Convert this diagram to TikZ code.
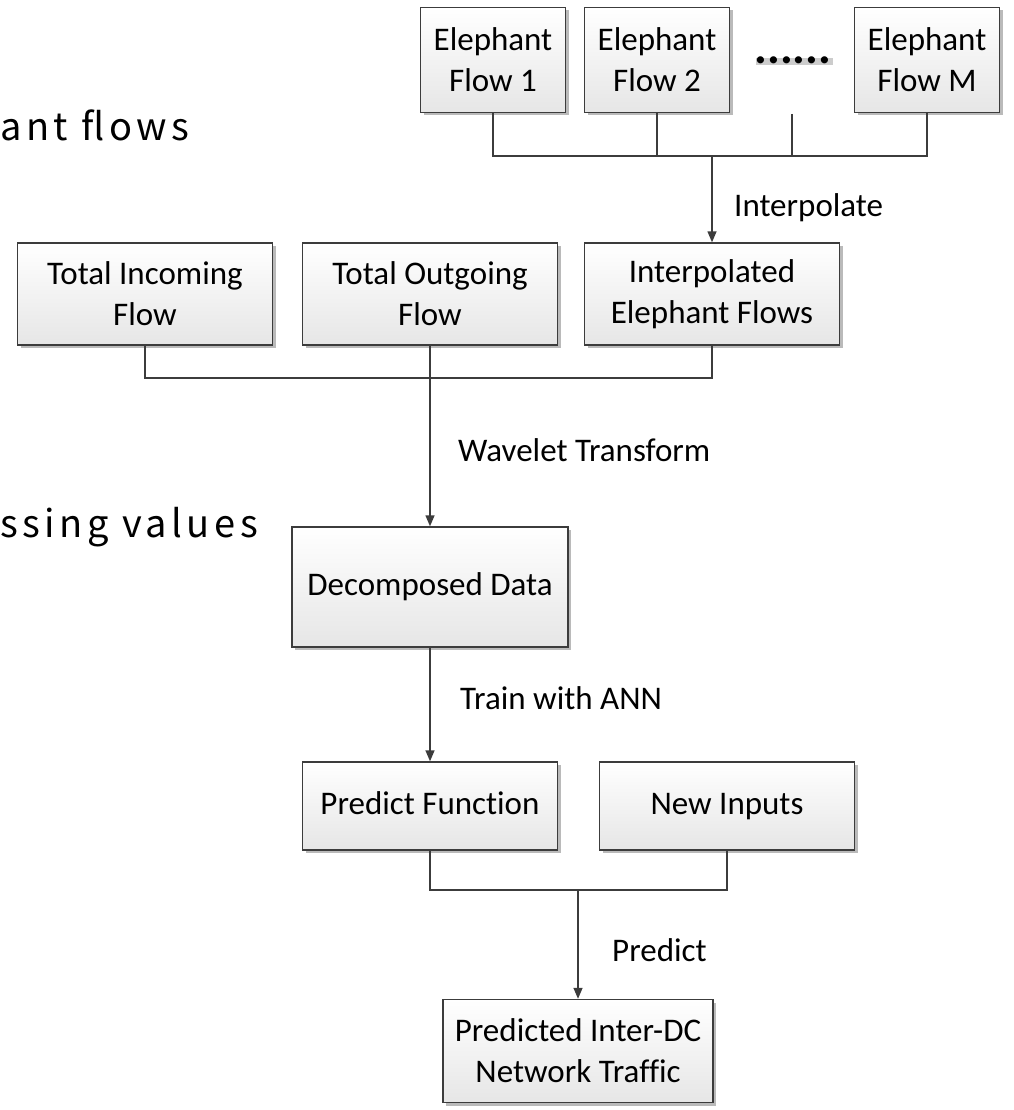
\documentclass[tikz,border=0pt]{standalone}
\usepackage{fontspec}
\setmainfont{Carlito}[Ligatures=NoCommon]
\newfontfamily\bigfont{Noto Sans CJK SC}[LetterSpace=12]
\usetikzlibrary{arrows.meta,shadows}
\definecolor{edge}{HTML}{3C3C3C}
\definecolor{boxbot}{HTML}{E6E6E6}
\tikzset{
  flowbox/.style={draw=edge, line width=1.4pt, top color=white, bottom color=boxbot,
    drop shadow={shadow xshift=3pt, shadow yshift=-3pt, fill=black!45, opacity=0.6},
    align=center, inner sep=0pt, font=\fontsize{33}{41}\selectfont},
  oneline/.style={text height=23pt, text depth=7pt},
  link/.style={draw=edge, line width=1.4pt},
  arrowlink/.style={link, -{Triangle[length=11pt,width=9pt]}},
  steplabel/.style={anchor=west, inner sep=0pt, font=\fontsize{33}{41}\selectfont},
  sidenote/.style={anchor=base west, inner sep=0pt, font=\bigfont\fontsize{38}{44}\selectfont}
}
\begin{document}
\begin{tikzpicture}[x=1pt,y=-1pt]
\useasboundingbox (0,0) rectangle (1013,1110);

% side notes on the left
\node[sidenote] (notea) at (0,141) {ant flows};
\node[sidenote] (noteb) at (0,537) {ssing values};

% elephant flows
\node[flowbox, minimum width=145pt, minimum height=105pt] (e1) at (493,60) {Elephant\\Flow 1};
\node[flowbox, minimum width=145pt, minimum height=105pt] (e2) at (657,60) {Elephant\\Flow 2};
\node[flowbox, minimum width=145pt, minimum height=105pt] (em) at (927,60) {Elephant\\Flow M};
\node[inner sep=0pt, font=\bfseries\fontsize{48}{50}\selectfont,
  drop shadow={shadow xshift=1.5pt, shadow yshift=-1.5pt, fill=black!40, opacity=0.5}] (dots) at (793,60) {......};
\coordinate (dotsfoot) at (792,114);
\coordinate (busa) at (0,156);

% second row
\node[flowbox, minimum width=255pt, minimum height=102pt] (tin) at (145,294) {Total Incoming\\Flow};
\node[flowbox, minimum width=255pt, minimum height=102pt] (tout) at (430,294) {Total Outgoing\\Flow};
\node[flowbox, minimum width=255pt, minimum height=102pt] (ief) at (712,294) {Interpolated\\Elephant Flows};
\coordinate (busb) at (0,378);

% processing chain
\node[flowbox, oneline, minimum width=276pt, minimum height=120pt] (dec) at (430,587) {Decomposed Data};
\node[flowbox, oneline, minimum width=255pt, minimum height=88pt] (pf) at (430,806) {Predict Function};
\node[flowbox, oneline, minimum width=255pt, minimum height=88pt] (ni) at (727,806) {New Inputs};
\coordinate (busc) at (0,890);
\node[flowbox, minimum width=270pt, minimum height=103pt] (out) at (578,1051) {Predicted Inter-DC\\Network Traffic};

% connectors
\draw[link] (e1.south) -- (e1.south |- busa) -- (em.south |- busa) -- (em.south);
\draw[link] (e2.south) -- (e2.south |- busa);
\draw[link] (dotsfoot) -- (dotsfoot |- busa);
\draw[arrowlink] (ief.north |- busa) -- (ief.north);
\node[steplabel] (lint) at (734,208) {Interpolate};

\draw[link] (tin.south) -- (tin.south |- busb) -- (ief.south |- busb) -- (ief.south);
\draw[arrowlink] (tout.south) -- (dec.north);
\node[steplabel] (lwav) at (458,450) {Wavelet Transform};

\draw[arrowlink] (dec.south) -- (pf.north);
\node[steplabel] (lann) at (460,698) {Train with ANN};

\draw[link] (pf.south) -- (pf.south |- busc) -- (ni.south |- busc) -- (ni.south);
\draw[arrowlink] (out.north |- busc) -- (out.north);
\node[steplabel] (lpred) at (612,950) {Predict};
\end{tikzpicture}
\end{document}
